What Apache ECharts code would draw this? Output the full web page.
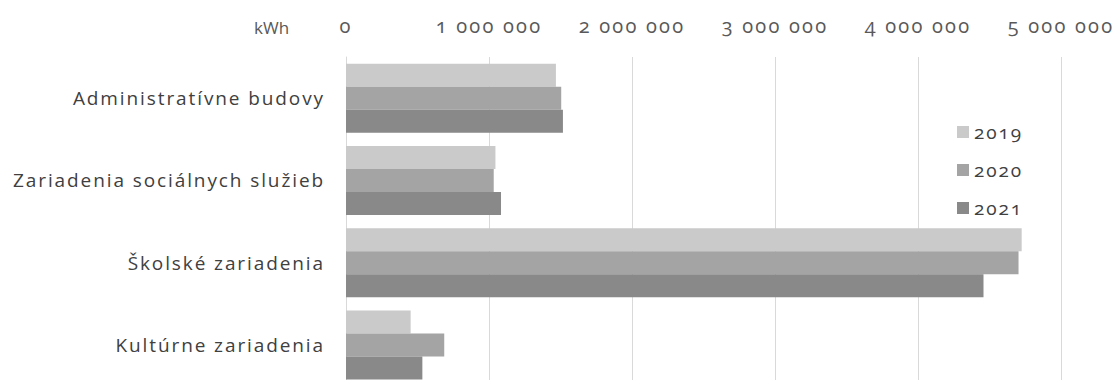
<!DOCTYPE html>
<html>
<head>
<meta charset="utf-8">
<script src="https://cdn.jsdelivr.net/npm/echarts@6/dist/echarts.min.js"></script>
<style>
  html, body { margin: 0; padding: 0; background: #ffffff; }
  #chart { width: 1113px; height: 380px; }
  /* old-style figures for all numeric labels */
  #chart svg text { font-variant-numeric: oldstyle-nums !important; }
  /* looser tracking: category and legend labels (19px), value labels (20px) */
  #chart svg text[style*="19px"] { letter-spacing: 1.9px !important; }
  #chart svg text[style*="20px"] { letter-spacing: 2.2px !important; }
</style>
</head>
<body>
<div id="chart"></div>
<script>
// Energy consumption by building type (kWh)
const categories = [
  'Administratívne budovy',
  'Zariadenia sociálnych služieb',
  'Školské zariadenia',
  'Kultúrne zariadenia'
];
const years = ['2019', '2020', '2021'];
const values2019 = [1468000, 1045000, 4725000, 452000];
const values2020 = [1505000, 1033000, 4703000, 687000];
const values2021 = [1517000, 1084000, 4458000, 534000];
const seriesColors = ['#cacaca', '#a4a4a4', '#898989'];
const axisMax = 5000000;
const axisStep = 1000000;

const font = '"Open Sans", Lato, sans-serif';

function formatThousands(v) {
  return String(v).replace(/\B(?=(\d{3})+(?!\d))/g, ' ');
}

const chart = echarts.init(document.getElementById('chart'), null, { renderer: 'svg' });

const seriesData = [values2019, values2020, values2021];

chart.setOption({
  animation: false,
  backgroundColor: '#ffffff',
  textStyle: { fontFamily: font },
  grid: { left: 346, right: 52, top: 57, height: 329, containLabel: false, outerBoundsMode: 'none' },
  legend: {
    orient: 'vertical',
    left: 952,
    top: 117,
    itemWidth: 12,
    itemHeight: 12,
    itemGap: 18,
    icon: 'rect',
    data: years,
    textStyle: { fontFamily: font, fontSize: 19, lineHeight: 20, color: '#404040' }
  },
  graphic: [{
    type: 'text',
    left: 254,
    top: 19,
    style: { text: 'kWh', fontFamily: font, fontSize: 17, fill: '#595959' }
  }],
  xAxis: {
    type: 'value',
    position: 'top',
    min: 0,
    max: axisMax,
    interval: axisStep,
    axisLine: { show: false },
    axisTick: { show: false },
    axisLabel: {
      margin: 22,
      fontFamily: font,
      fontSize: 20,
      color: '#595959',
      formatter: formatThousands
    },
    splitLine: { show: true, lineStyle: { color: '#d9d9d9', width: 1 } }
  },
  yAxis: {
    type: 'category',
    data: categories,
    inverse: true,
    axisLine: { show: true, lineStyle: { color: '#d9d9d9', width: 1 } },
    axisTick: { show: false },
    axisLabel: {
      margin: 21,
      fontFamily: font,
      fontSize: 19,
      color: '#404040'
    }
  },
  series: years.map((y, i) => ({
    name: y,
    type: 'bar',
    data: seriesData[i],
    barWidth: 23,
    barGap: '0%',
    itemStyle: { color: seriesColors[i] }
  }))
});
</script>
</body>
</html>
